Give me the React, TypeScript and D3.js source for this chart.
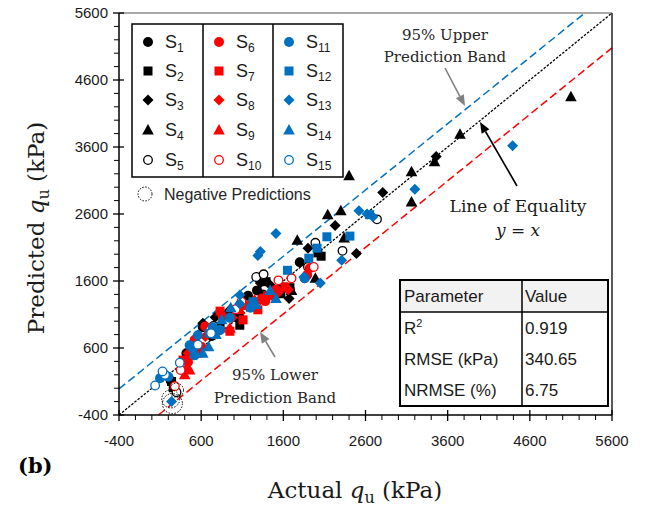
import React from 'react';
import * as d3 from 'd3';

// axis ticks (kPa)
const majorTicks = [-400, 600, 1600, 2600, 3600, 4600, 5600];
const minorTicks = d3.range(-400, 5601, 200).filter((v) => !majorTicks.includes(v));

const s1 = [[1280, 1460], [1350, 1400], [620, 910], [420, 520], [230, 110], [1030, 1060], [1800, 1880], [730, 780], [1170, 1380], [890, 1090], [1680, 1470], [510, 640]];
const s2 = [[240, 100], [260, 10], [1600, 1510], [1680, 1500], [2060, 1970], [2020, 2020], [1390, 1590], [1070, 940], [520, 560], [1570, 1410], [830, 900]];
const s3 = [[1320, 1570], [770, 1060], [620, 970], [1900, 2090], [2230, 2430], [2810, 2920], [2490, 2010], [3460, 3460], [1440, 1540], [950, 1170], [560, 790], [1670, 1340]];
const s4 = [[5100, 4350], [3750, 3790], [3440, 3380], [3160, 3230], [3160, 2780], [2400, 3170], [2140, 2590], [2300, 2650], [2340, 2240], [1770, 2210], [1990, 1640], [1700, 1460], [1090, 1070], [780, 870]];
const s5 = [[2740, 2520], [1990, 2170], [2320, 2050], [1900, 1810], [1270, 1660], [1360, 1700], [300, -60], [750, 930], [1070, 1240]];
const s6 = [[1890, 1690], [650, 920], [860, 1070], [520, 720], [1340, 1340], [600, 620], [1380, 1300], [1130, 1240], [440, 390], [1920, 1790], [1510, 1470]];
const s7 = [[380, 420], [830, 1150], [1290, 1170], [1620, 1510], [950, 850], [550, 520], [1410, 1380], [1110, 1020]];
const s8 = [[1660, 1470], [440, 520], [550, 670], [830, 870], [1190, 1240], [980, 1050], [1320, 1320], [650, 770], [1540, 1430]];
const s9 = [[400, 200], [420, 300], [460, 270], [560, 570], [780, 870], [1250, 1320], [1460, 1390], [1070, 1170], [950, 900]];
const s10 = [[280, 30], [1970, 1810], [1540, 1610], [1700, 1640], [1090, 1290], [1020, 1180], [1860, 1640], [710, 870], [350, 270]];
const s11 = [[100, 150], [200, 170], [520, 490], [460, 640], [740, 910], [830, 870], [1860, 1640], [560, 790], [950, 1050], [1200, 1200]];
const s12 = [[2130, 2260], [2410, 2270], [2010, 2090], [1910, 1940], [1650, 1760], [2650, 2590], [1230, 1290], [700, 820]];
const s13 = [[4390, 3620], [3200, 2970], [2520, 2650], [2620, 2600], [2690, 2560], [2310, 1910], [2050, 1570], [1850, 1660], [1510, 2310], [1290, 1980], [1320, 2040], [240, -200], [1070, 1390], [500, 570], [1070, 1260]];
const s14 = [[1510, 1340], [960, 1200], [690, 620], [620, 520], [850, 1020], [1440, 1460], [1270, 1250], [780, 800]];
const s15 = [[40, 40], [160, 200], [130, 250], [340, 380], [560, 650], [720, 820]];

const seriesNames = ['1', '2', '3', '4', '5', '6', '7', '8', '9', '10', '11', '12', '13', '14', '15'];
const seriesData = [s1, s2, s3, s4, s5, s6, s7, s8, s9, s10, s11, s12, s13, s14, s15];
const shapes = ['circle', 'square', 'diamond', 'triangle', 'open'];
const colors = ['#000000', '#ff0000', '#0070c0'];

// reference lines, kPa endpoints
const equalityLine = [[-400, -400], [5600, 5600]];
const upperBand = [[-400, -10], [5270, 5600]];
const lowerBand = [[80, -400], [5600, 5080]];

// points flagged as negative predictions
const negPoints = [[300, -30], [230, -160], [250, -230]];
const negRadius = [7, 9, 10];

const tableRows = [['R', '2', '0.919'], ['RMSE (kPa)', '', '340.65'], ['NRMSE (%)', '', '6.75']];

const x = d3.scaleLinear().domain([-400, 5600]).range([119, 612]);
const y = d3.scaleLinear().domain([-400, 5600]).range([415, 13]);

const sans = 'Arial, "Liberation Sans", sans-serif';
const serif = '"DejaVu Serif", serif';

function Marker({ shape, color, cx, cy }) {
  if (shape === 'circle') return <circle cx={cx} cy={cy} r={5} fill={color} />;
  if (shape === 'open') return <circle cx={cx} cy={cy} r={4.3} fill="#fff" stroke={color} strokeWidth={1.3} />;
  if (shape === 'square') return <rect x={cx - 4.5} y={cy - 4.5} width={9} height={9} fill={color} />;
  if (shape === 'diamond') return <path d={`M${cx},${cy - 5.5}L${cx + 5.5},${cy}L${cx},${cy + 5.5}L${cx - 5.5},${cy}Z`} fill={color} />;
  return <path d={`M${cx},${cy - 6}L${cx + 5.8},${cy + 4.5}L${cx - 5.8},${cy + 4.5}Z`} fill={color} />;
}

function Arrow({ x1, y1, x2, y2, color }) {
  const a = Math.atan2(y2 - y1, x2 - x1);
  const len = 11, w = 4.5;
  const bx = x2 - len * Math.cos(a), by = y2 - len * Math.sin(a);
  const p1 = [bx + w * Math.sin(a), by - w * Math.cos(a)];
  const p2 = [bx - w * Math.sin(a), by + w * Math.cos(a)];
  return (
    <g>
      <line x1={x1} y1={y1} x2={bx} y2={by} stroke={color} strokeWidth={1.6} />
      <path d={`M${x2},${y2}L${p1[0]},${p1[1]}L${p2[0]},${p2[1]}Z`} fill={color} />
    </g>
  );
}

export default function App() {
  const line = d3.line().x((d) => x(d[0])).y((d) => y(d[1]));
  const legendCols = [148, 219, 289];
  const legendRows = [42, 71, 100, 130, 160];

  return (
    <svg width={646} height={511} style={{ position: 'absolute', left: 0, top: 0, background: '#fff' }}>
      <rect width={646} height={511} fill="#fff" />

      {/* reference lines */}
      <path d={line(upperBand)} stroke="#0070c0" strokeWidth={1.5} strokeDasharray="8,4" fill="none" />
      <path d={line(lowerBand)} stroke="#ff0000" strokeWidth={1.5} strokeDasharray="8,4" fill="none" />
      <path d={line(equalityLine)} stroke="#000" strokeWidth={1.3} strokeDasharray="2.5,1.5" fill="none" />

      {/* points */}
      {seriesData.map((pts, i) =>
        pts.map((p, j) => (
          <Marker key={`${i}-${j}`} shape={shapes[i % 5]} color={colors[Math.floor(i / 5)]} cx={x(p[0])} cy={y(p[1])} />
        ))
      )}

      {negPoints.map((p, i) => (
        <circle key={i} cx={x(p[0])} cy={y(p[1])} r={negRadius[i]} fill="none" stroke="#000" strokeWidth={1} strokeDasharray="1.5,1.5" />
      ))}

      {/* frame and axes */}
      <line x1={119} y1={13} x2={612} y2={13} stroke="#555" strokeWidth={1} />
      <line x1={612} y1={13} x2={612} y2={415} stroke="#000" strokeWidth={1.3} />
      <line x1={119} y1={13} x2={119} y2={415} stroke="#000" strokeWidth={1.5} />
      <line x1={119} y1={415} x2={612} y2={415} stroke="#000" strokeWidth={1.5} />
      {majorTicks.map((t) => (
        <g key={`mx${t}`}>
          <line x1={x(t)} x2={x(t)} y1={410} y2={421} stroke="#000" strokeWidth={1.3} />
          <line x1={113} x2={124} y1={y(t)} y2={y(t)} stroke="#000" strokeWidth={1.3} />
          <text x={x(t)} y={446} fontFamily={sans} fontSize={15} textAnchor="middle" fill="#1a1a1a">{t}</text>
          <text x={108} y={y(t) + 5} fontFamily={sans} fontSize={15} textAnchor="end" fill="#1a1a1a">{t}</text>
        </g>
      ))}
      {minorTicks.map((t) => (
        <g key={`mn${t}`}>
          <line x1={x(t)} x2={x(t)} y1={415} y2={420} stroke="#000" strokeWidth={1} />
          <line x1={114} x2={119} y1={y(t)} y2={y(t)} stroke="#000" strokeWidth={1} />
        </g>
      ))}

      {/* axis titles */}
      <text x={355} y={498} fontFamily={serif} fontSize={23} textAnchor="middle" fill="#1a1a1a">
        Actual <tspan fontStyle="italic">q</tspan><tspan fontSize={16} dy={5}>u</tspan><tspan dy={-5}> (kPa)</tspan>
      </text>
      <text transform="translate(44,228) rotate(-90)" fontFamily={serif} fontSize={23} textAnchor="middle" fill="#1a1a1a">
        Predicted <tspan fontStyle="italic">q</tspan><tspan fontSize={16} dy={5}>u</tspan><tspan dy={-5}> (kPa)</tspan>
      </text>
      <text x={18} y={473} fontFamily={serif} fontSize={21} fontWeight="bold" fill="#000">(b)</text>

      {/* legend */}
      <rect x={132} y={24} width={211} height={153} fill="#fff" stroke="#000" strokeWidth={1.5} />
      <line x1={203} x2={203} y1={24} y2={177} stroke="#000" strokeWidth={1.5} />
      <line x1={273} x2={273} y1={24} y2={177} stroke="#000" strokeWidth={1.5} />
      {seriesNames.map((n, i) => {
        const c = Math.floor(i / 5), r = i % 5;
        return (
          <g key={n}>
            <Marker shape={shapes[r]} color={colors[c]} cx={legendCols[c]} cy={legendRows[r]} />
            <text x={legendCols[c] + 17} y={legendRows[r] + 6} fontFamily={sans} fontSize={18} fill="#1a1a1a">
              S<tspan fontSize={12} dy={4}>{n}</tspan>
            </text>
          </g>
        );
      })}
      <circle cx={145} cy={194} r={7} fill="none" stroke="#000" strokeWidth={1} strokeDasharray="1.5,1.5" />
      <text x={164} y={200} fontFamily={sans} fontSize={16} fill="#262626">Negative Predictions</text>

      {/* annotations */}
      <text x={445} y={40} fontFamily={serif} fontSize={15} textAnchor="middle" fill="#262626">95% Upper</text>
      <text x={445} y={62} fontFamily={serif} fontSize={15} textAnchor="middle" fill="#262626">Prediction Band</text>
      <Arrow x1={445} y1={68} x2={465} y2={106} color="#808080" />

      <text x={518} y={212} fontFamily={serif} fontSize={17} textAnchor="middle" fill="#1a1a1a">Line of Equality</text>
      <text x={518} y={236} fontFamily={serif} fontSize={17} textAnchor="middle" fontStyle="italic" fill="#1a1a1a">y = x</text>
      <Arrow x1={517} y1={186} x2={480} y2={122} color="#000" />

      <text x={275} y={380} fontFamily={serif} fontSize={15} textAnchor="middle" fill="#262626">95% Lower</text>
      <text x={275} y={403} fontFamily={serif} fontSize={15} textAnchor="middle" fill="#262626">Prediction Band</text>
      <Arrow x1={275} y1={357} x2={260} y2={332} color="#808080" />

      {/* statistics table */}
      <rect x={400} y={280} width={208} height={126} fill="#fff" />
      <rect x={400} y={280} width={208} height={32} fill="#f2f2f2" />
      <rect x={400} y={280} width={208} height={126} fill="none" stroke="#000" strokeWidth={2} />
      <line x1={400} x2={608} y1={312} y2={312} stroke="#000" strokeWidth={1.5} />
      <line x1={522} x2={522} y1={280} y2={406} stroke="#000" strokeWidth={1.5} />
      <text x={404} y={302} fontFamily={sans} fontSize={17} fill="#1a1a1a">Parameter</text>
      <text x={525} y={302} fontFamily={sans} fontSize={17} fill="#1a1a1a">Value</text>
      {tableRows.map((r, i) => (
        <g key={r[0]}>
          <text x={404} y={334 + i * 31} fontFamily={sans} fontSize={17} fill="#1a1a1a">
            {r[0]}{r[1] && <tspan fontSize={11} dy={-7}>{r[1]}</tspan>}
          </text>
          <text x={525} y={334 + i * 31} fontFamily={sans} fontSize={17} fill="#1a1a1a">{r[2]}</text>
        </g>
      ))}
    </svg>
  );
}
